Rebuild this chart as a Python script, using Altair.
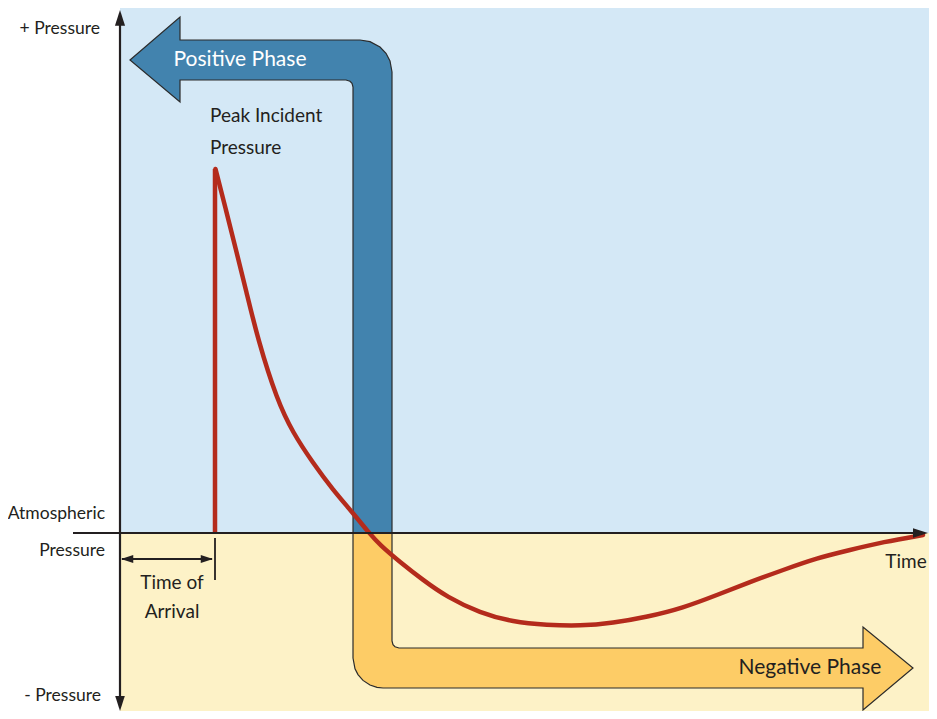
import altair as alt
import pandas as pd

# ---- coordinate system: t = time (origin at the pressure axis), p = pressure above atmospheric
T_DOMAIN = [-112, 809]
P_DOMAIN = [-178, 525]

# Red pressure-time history
arrival_t = 95
peak_p = 364
curve_t = [95.5, 106, 116, 126, 138, 157, 173, 193, 213, 233, 249, 260, 280, 303, 327, 360, 393,
           427, 460, 493, 527, 563, 597, 630, 663, 697, 730, 763, 803]
curve_p = [364, 323, 283, 243, 193, 133, 100, 70, 43, 20, 0, -12, -29, -47, -64, -80, -89,
           -92, -93, -90, -84, -75, -62, -49, -37, -25, -17, -9, -2]

# "Positive Phase" arrow outline (t, upper p, lower p)
pos_t = [10, 60, 60.01, 226, 230, 232, 233, 233.01, 240, 250, 260, 266, 270, 272]
pos_top = [473, 516, 493, 493, 493, 493, 493, 493, 493, 491.4, 486, 479.7, 472.1, 461]
pos_bot = [473, 431, 453, 453, 451.7, 449.6, 446, 0, 0, 0, 0, 0, 0, 0]

# "Negative Phase" arrow outline (t, upper p, lower p)
neg_t = [233, 235, 238, 243, 250, 257, 263, 272, 272.01, 273, 275, 279, 743, 743.01, 793]
neg_top = [0, 0, 0, 0, 0, 0, 0, 0, -108, -111.6, -113.7, -115, -115, -94, -135]
neg_bot = [-125, -135.8, -141.6, -147.4, -152, -154.4, -155, -155, -155, -155, -155, -155, -155, -177, -135]

# Labels
lab_right_text = ["+ Pressure", "Atmospheric", "Pressure", "- Pressure"]
lab_right_t = [-20, -15, -15, -19]
lab_right_p = [504, 19, -18, -163]

lab_left_text = ["Peak Incident", "Pressure"]
lab_left_t = [90, 90]
lab_left_p = [417, 385]

lab_center_text = ["Time of", "Arrival", "Time"]
lab_center_t = [52, 52, 786]
lab_center_p = [-50, -79, -29]

phase_text = ["Positive Phase", "Negative Phase"]
phase_t = [120, 690]
phase_p = [473, -135]
phase_color = ["#ffffff", "#231f20"]

FONT = "Lato, Roboto, Liberation Sans, sans-serif"
INK = "#231f20"

xs = alt.Scale(domain=T_DOMAIN, nice=False, zero=False)
ys = alt.Scale(domain=P_DOMAIN, nice=False, zero=False)


def X(f):
    return alt.X(f, type="quantitative", scale=xs, axis=None)


def Y(f):
    return alt.Y(f, type="quantitative", scale=ys, axis=None)


# backgrounds
bg = pd.DataFrame({
    "t0": [0, 0], "t1": [817, 817],
    "p0": [0, -186], "p1": [525, 0],
    "c": ["#d4e8f6", "#fdf2c7"],
})
bg_layer = alt.Chart(bg).mark_rect().encode(
    x=X("t0"), x2="t1", y=Y("p0"), y2="p1", color=alt.Color("c:N", scale=None)
)

pos_df = pd.DataFrame({"t": pos_t, "top": pos_top, "bot": pos_bot})
pos_layer = alt.Chart(pos_df).mark_area(
    color="#4283ae", stroke="#2b2b2b", strokeWidth=1.2, interpolate="linear", opacity=1
).encode(x=X("t"), y=Y("top"), y2="bot")

neg_df = pd.DataFrame({"t": neg_t, "top": neg_top, "bot": neg_bot})
neg_layer = alt.Chart(neg_df).mark_area(
    color="#fdcc66", stroke="#2b2b2b", strokeWidth=1.2, interpolate="linear", opacity=1
).encode(x=X("t"), y=Y("top"), y2="bot")

# red curve
spike = pd.DataFrame({"t": [arrival_t], "p0": [0], "p1": [peak_p]})
spike_layer = alt.Chart(spike).mark_rule(color="#b42b1c", strokeWidth=4.5).encode(
    x=X("t"), y=Y("p0"), y2="p1"
)
curve_df = pd.DataFrame({"t": curve_t, "p": curve_p})
curve_layer = alt.Chart(curve_df).mark_line(
    color="#b42b1c", strokeWidth=4.5, interpolate="basis", strokeCap="round"
).encode(x=X("t"), y=Y("p"))

# axes lines (drawn as rules)
rules = pd.DataFrame({
    "t0": [-47, 0, 2, arrival_t],
    "t1": [805, 0, 92, arrival_t],
    "p0": [0, -172, -26, -5],
    "p1": [0, 508, -26, -47],
    "w": [2.2, 2.2, 1.8, 1.8],
})
rule_layer = alt.Chart(rules).mark_rule(color=INK).encode(
    x=X("t0"), x2="t1", y=Y("p0"), y2="p1", strokeWidth=alt.StrokeWidth("w:Q", scale=None)
)

# arrowheads
UP = "M0,0L0.32,1L-0.32,1Z"
DOWN = "M0,0L0.32,-1L-0.32,-1Z"
RIGHT = "M0,0L-1,0.32L-1,-0.32Z"
LEFT = "M0,0L1,0.32L1,-0.32Z"
heads = pd.DataFrame({
    "t": [0, 0, 808, 1, 93],
    "p": [523, -178, 0, -26, -26],
    "shape": [UP, DOWN, RIGHT, LEFT, RIGHT],
    "size": [1000, 900, 900, 600, 600],
})
head_layer = alt.Chart(heads).mark_point(filled=True, opacity=1, color=INK).encode(
    x=X("t"), y=Y("p"),
    shape=alt.Shape("shape:N", scale=None),
    size=alt.Size("size:Q", scale=None),
)


# labels
def text_layer(texts, ts, ps, align, size, color=INK):
    df = pd.DataFrame({"label": texts, "t": ts, "p": ps})
    return alt.Chart(df).mark_text(
        align=align, baseline="middle", font=FONT, fontSize=size, color=color
    ).encode(x=X("t"), y=Y("p"), text="label:N")


right_labels = text_layer(lab_right_text, lab_right_t, lab_right_p, "right", 17.5)
left_labels = text_layer(lab_left_text, lab_left_t, lab_left_p, "left", 19)
center_labels = text_layer(lab_center_text, lab_center_t, lab_center_p, "center", 19)

phase_df = pd.DataFrame({"label": phase_text, "t": phase_t, "p": phase_p, "c": phase_color})
phase_layer = alt.Chart(phase_df).mark_text(
    align="center", baseline="middle", font=FONT, fontSize=21
).encode(x=X("t"), y=Y("p"), text="label:N", color=alt.Color("c:N", scale=None))

chart = alt.layer(
    bg_layer, pos_layer, neg_layer, spike_layer, curve_layer,
    rule_layer, head_layer, right_labels, left_labels, center_labels, phase_layer,
).properties(
    width=921, height=703, padding=0,
    autosize=alt.AutoSizeParams(type="none"),
    background="#ffffff",
).configure_view(strokeWidth=0)

chart.save("out.html", embed_options={"renderer": "svg", "actions": False})
